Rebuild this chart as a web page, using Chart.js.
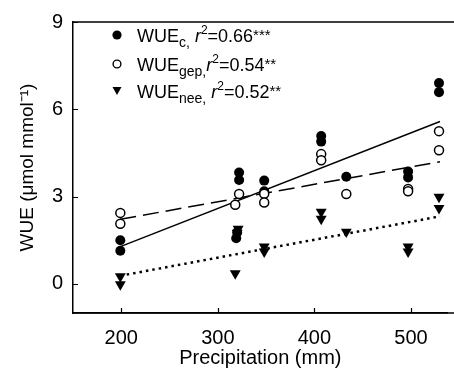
<!DOCTYPE html>
<html>
<head>
<meta charset="utf-8">
<script src="https://cdn.jsdelivr.net/npm/chart.js@4.4.1/dist/chart.umd.min.js"></script>
<style>
  html, body { margin: 0; padding: 0; background: #fff; overflow: hidden; }
  #wrap { width: 454px; height: 375px; }
</style>
</head>
<body>
<div id="wrap"><canvas id="grafico" width="454" height="375"></canvas></div>
<script>
// dados
const precipC = [199, 199, 322, 322, 320, 319, 348, 348, 407, 407, 433, 497, 497, 529, 529];
const wueC    = [1.50, 1.14, 3.83, 3.57, 1.77, 1.57, 3.55, 3.18, 5.08, 4.89, 3.68, 3.86, 3.66, 6.90, 6.59];

const precipGep = [199, 199, 322, 318, 348, 348, 407, 407, 433, 497, 497, 529, 529];
const wueGep    = [2.44, 2.07, 3.09, 2.72, 3.10, 2.80, 4.46, 4.25, 3.09, 3.26, 3.18, 5.25, 4.59];

const precipNee = [199, 199, 321, 320, 318, 348, 348, 407, 407, 433, 497, 497, 529, 529];
const wueNee    = [0.26, -0.02, 1.89, 1.75, 0.36, 1.28, 1.11, 2.47, 2.23, 1.79, 1.28, 1.11, 2.99, 2.60];

// retas de regressao (extremos)
const fitX   = [199, 530];
const fitC   = [1.28, 5.58];
const fitGep = [2.22, 4.20];
const fitNee = [0.28, 2.32];

const xTicks = [200, 300, 400, 500];
const yTicks = [0, 3, 6, 9];

const FONTE = 'Arial, "Liberation Sans", Helvetica, sans-serif';

const pontos = (xs, ys) => xs.map((x, i) => ({x, y: ys[i]}));

// legenda com subscrito e sobrescrito
const legendaPlugin = {
    id: 'legendaWue',
    afterDraw(chart) {
        const ctx = chart.ctx;
        ctx.save();
        ctx.fillStyle = '#000';
        ctx.strokeStyle = '#000';

        // marcadores
        ctx.beginPath();
        ctx.arc(117, 35, 4.6, 0, Math.PI * 2);
        ctx.fill();

        ctx.lineWidth = 1.4;
        ctx.beginPath();
        ctx.arc(117, 64, 3.9, 0, Math.PI * 2);
        ctx.stroke();

        ctx.beginPath();
        ctx.moveTo(112.5, 87);
        ctx.lineTo(121.5, 87);
        ctx.lineTo(117, 95);
        ctx.closePath();
        ctx.fill();

        const linhas = [
            {y: 42, partes: [['WUE', 18, 0, ''], ['c,', 14, 5, ''], [' ', 18, 0, ''], ['r', 18, 0, 'italic '], ['2', 12, -8, ''], ['=0.66', 18, 0, ''], ['***', 15, -2, '']]},
            {y: 71, partes: [['WUE', 18, 0, ''], ['gep,', 14, 5, ''], ['r', 18, 0, 'italic '], ['2', 12, -8, ''], ['=0.54', 18, 0, ''], ['**', 15, -2, '']]},
            {y: 98, partes: [['WUE', 18, 0, ''], ['nee,', 14, 5, ''], [' ', 18, 0, ''], ['r', 18, 0, 'italic '], ['2', 12, -8, ''], ['=0.52', 18, 0, ''], ['**', 15, -2, '']]}
        ];
        ctx.textBaseline = 'alphabetic';
        ctx.textAlign = 'left';
        linhas.forEach(l => {
            let x = 137;
            l.partes.forEach(([t, tam, dy, estilo]) => {
                ctx.font = estilo + tam + 'px ' + FONTE;
                ctx.fillText(t, x, l.y + dy);
                x += ctx.measureText(t).width;
            });
        });
        ctx.restore();
    }
};

// borda superior e ticks para dentro
const molduraPlugin = {
    id: 'moldura',
    afterDraw(chart) {
        const {ctx, chartArea, scales} = chart;
        ctx.save();
        ctx.strokeStyle = '#000';
        ctx.lineWidth = 1.5;
        ctx.beginPath();
        ctx.moveTo(chartArea.left, chartArea.top);
        ctx.lineTo(chart.width, chartArea.top);
        ctx.moveTo(chartArea.left, chartArea.bottom);
        ctx.lineTo(chart.width, chartArea.bottom);
        ctx.stroke();

        ctx.lineWidth = 1.2;
        ctx.beginPath();
        xTicks.forEach(v => {
            const px = Math.round(scales.x.getPixelForValue(v)) + 0.5;
            ctx.moveTo(px, chartArea.bottom);
            ctx.lineTo(px, chartArea.bottom - 5);
        });
        yTicks.forEach(v => {
            const py = Math.round(scales.y.getPixelForValue(v)) + 0.5;
            ctx.moveTo(chartArea.left, py);
            ctx.lineTo(chartArea.left + 5, py);
        });
        ctx.stroke();
        ctx.restore();
    }
};

const ctx = document.getElementById('grafico').getContext('2d');
new Chart(ctx, {
    type: 'scatter',
    data: {
        datasets: [
            {
                label: 'fitC',
                data: pontos(fitX, fitC),
                showLine: true,
                borderColor: '#000',
                borderWidth: 1.5,
                pointRadius: 0,
                order: 3
            },
            {
                label: 'fitGep',
                data: pontos(fitX, fitGep),
                showLine: true,
                borderColor: '#000',
                borderWidth: 1.5,
                borderDash: [16, 7],
                pointRadius: 0,
                order: 3
            },
            {
                label: 'fitNee',
                data: pontos(fitX, fitNee),
                showLine: true,
                borderColor: '#000',
                borderWidth: 2.5,
                borderDash: [2.5, 4],
                pointRadius: 0,
                order: 3
            },
            {
                label: 'WUEnee',
                data: pontos(precipNee, wueNee),
                pointStyle: 'triangle',
                rotation: 180,
                pointRadius: 6.3,
                backgroundColor: '#000',
                borderColor: '#000',
                borderWidth: 0,
                order: 2
            },
            {
                label: 'WUEc',
                data: pontos(precipC, wueC),
                pointStyle: 'circle',
                pointRadius: 5,
                backgroundColor: '#000',
                borderColor: '#000',
                borderWidth: 0,
                order: 1
            },
            {
                label: 'WUEgep',
                data: pontos(precipGep, wueGep),
                pointStyle: 'circle',
                pointRadius: 4.5,
                backgroundColor: '#fff',
                borderColor: '#000',
                borderWidth: 1.5,
                order: 0
            }
        ]
    },
    options: {
        responsive: false,
        animation: false,
        devicePixelRatio: 1,
        layout: {padding: {top: 20, right: 0, left: 0, bottom: 0}},
        plugins: {
            legend: {display: false},
            tooltip: {enabled: false}
        },
        scales: {
            x: {
                type: 'linear',
                min: 150,
                max: 538,
                afterBuildTicks: s => { s.ticks = xTicks.map(v => ({value: v})); },
                afterFit: s => { s.height = 62; },
                ticks: {
                    color: '#000',
                    font: {family: FONTE, size: 20},
                    padding: 13
                },
                grid: {display: false, drawTicks: false},
                border: {display: true, color: '#000', width: 1.5},
                title: {
                    display: true,
                    text: 'Precipitation (mm)',
                    color: '#000',
                    font: {family: FONTE, size: 20},
                    padding: {top: 0, bottom: 5}
                }
            },
            y: {
                type: 'linear',
                min: -1,
                max: 9,
                afterBuildTicks: s => { s.ticks = yTicks.map(v => ({value: v})); },
                afterFit: s => { s.width = 73; },
                ticks: {
                    color: '#000',
                    font: {family: FONTE, size: 20},
                    padding: 10
                },
                grid: {display: false, drawTicks: false},
                border: {display: true, color: '#000', width: 1.5},
                title: {
                    display: true,
                    text: 'WUE (\u03bcmol mmol\u207b\u00b9)',
                    color: '#000',
                    font: {family: FONTE, size: 19},
                    padding: {top: 16, bottom: 0}
                }
            }
        }
    },
    plugins: [legendaPlugin, molduraPlugin]
});
</script>
</body>
</html>
